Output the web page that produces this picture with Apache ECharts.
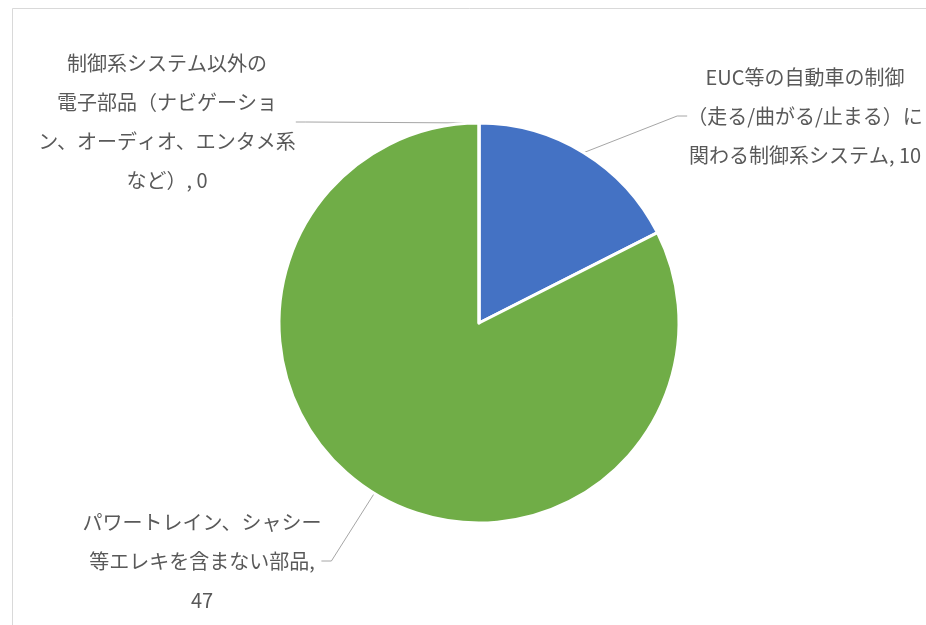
<!DOCTYPE html>
<html>
<head>
<meta charset="utf-8">
<script src="https://cdn.jsdelivr.net/npm/echarts@6/dist/echarts.min.js"></script>
<style>
  html, body { margin: 0; padding: 0; background: #ffffff; }
  #chart { width: 926px; height: 625px; }
</style>
</head>
<body>
<div id="chart"></div>
<script>
// Categories of automotive parts, in drawing order (clockwise from 12 o'clock)
const categories = [
  'EUC等の自動車の制御（走る/曲がる/止まる）に関わる制御系システム',
  'パワートレイン、シャシー等エレキを含まない部品',
  '制御系システム以外の電子部品（ナビゲーション、オーディオ、エンタメ系など）'
];
// Counts per category
const counts = [10, 47, 0];
// Wrapped label text for each category (value is appended after the comma)
const wrappedNames = [
  'EUC等の自動車の制御\n（走る/曲がる/止まる）に\n関わる制御系システム, ',
  'パワートレイン、シャシー\n等エレキを含まない部品,\n',
  '制御系システム以外の\n電子部品（ナビゲーショ\nン、オーディオ、エンタメ系\nなど）, '
];
const sliceColors = ['#4472C4', '#70AD47', '#ED7D31'];

// Where each data label box is centred
const labelCentres = [
  [805, 116],
  [202, 561],
  [167, 122]
];

const chart = echarts.init(document.getElementById('chart'), null, { renderer: 'canvas' });

chart.setOption({
  backgroundColor: '#ffffff',
  animation: false,
  graphic: [{
    type: 'rect',
    left: 10,
    top: 6,
    shape: { width: 1000, height: 700 },
    style: { fill: 'none', stroke: '#d9d9d9', lineWidth: 1 },
    silent: true
  }],
  series: [{
    type: 'pie',
    center: [479, 323],
    radius: 200,
    startAngle: 90,
    clockwise: true,
    minAngle: 0,
    avoidLabelOverlap: false,
    itemStyle: { borderColor: '#ffffff', borderWidth: 3 },
    label: {
      show: true,
      position: 'outside',
      color: '#595959',
      fontFamily: '"Noto Sans CJK JP", sans-serif',
      fontSize: 20,
      lineHeight: 39,
      align: 'center',
      formatter: (p) => wrappedNames[p.dataIndex] + p.value
    },
    labelLine: {
      show: true,
      length: 20,
      length2: 10,
      lineStyle: { color: '#a6a6a6', width: 1 }
    },
    labelLayout: (params) => {
      const c = labelCentres[params.dataIndex];
      return { x: c[0], y: c[1], align: 'center', verticalAlign: 'middle' };
    },
    data: categories.map((name, i) => ({
      name: name,
      value: counts[i],
      itemStyle: { color: sliceColors[i] }
    }))
  }]
});
</script>
</body>
</html>
